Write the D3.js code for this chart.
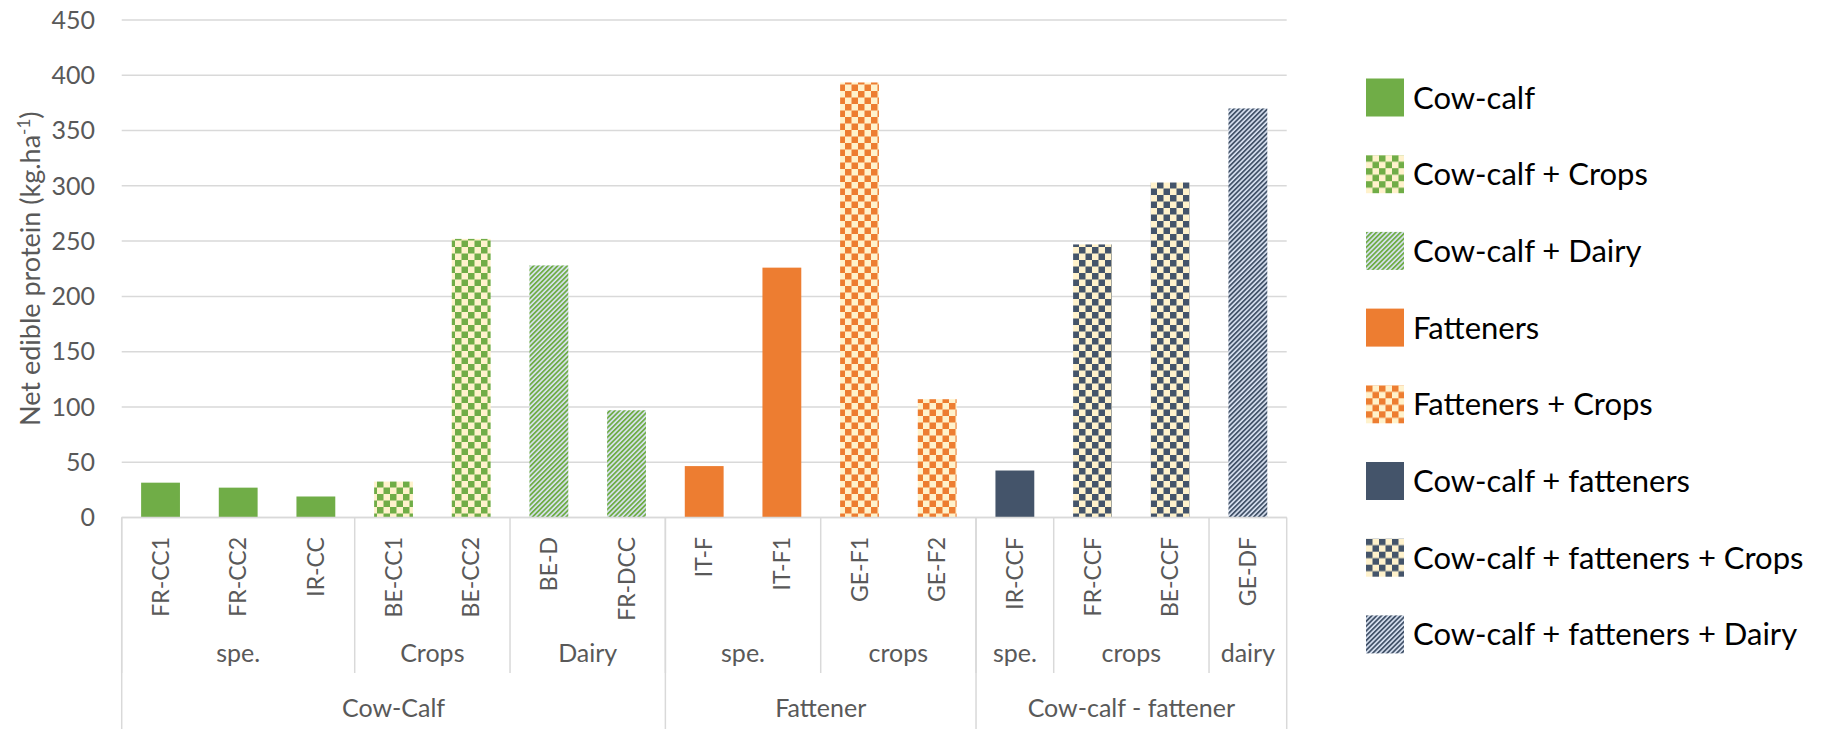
<!DOCTYPE html>
<html>
<head>
<meta charset="utf-8">
<script src="https://cdn.jsdelivr.net/npm/d3@7"></script>
<style>
  html, body { margin: 0; padding: 0; background: #fff; }
  svg { display: block; font-family: Lato, "Noto Sans", sans-serif; }
</style>
</head>
<body>
<svg id="chart" width="1845" height="729"></svg>
<script>
// farm codes and their net edible protein values (kg/ha)
var codes  = ['FR-CC1', 'FR-CC2', 'IR-CC', 'BE-CC1', 'BE-CC2', 'BE-D', 'FR-DCC',
              'IT-F', 'IT-F1', 'GE-F1', 'GE-F2', 'IR-CCF', 'FR-CCF', 'BE-CCF', 'GE-DF'];
var values = [31.5, 27, 19, 32.5, 252, 228, 97, 46.5, 226, 393.5, 107, 42.5, 247, 303, 370];
// which legend series each bar belongs to
var barSeries = [0, 0, 0, 1, 1, 2, 2, 3, 3, 4, 4, 5, 6, 6, 7];

// second and third level of the category axis
var subLabels  = ['spe.', 'Crops', 'Dairy', 'spe.', 'crops', 'spe.', 'crops', 'dairy'];
var subSizes   = [3, 2, 2, 2, 2, 1, 2, 1];
var mainLabels = ['Cow-Calf', 'Fattener', 'Cow-calf - fattener'];
var mainSizes  = [7, 4, 4];

var seriesNames = ['Cow-calf', 'Cow-calf + Crops', 'Cow-calf + Dairy', 'Fatteners',
                   'Fatteners + Crops', 'Cow-calf + fatteners',
                   'Cow-calf + fatteners + Crops', 'Cow-calf + fatteners + Dairy'];
var seriesColors = ['#70ad47', '#70ad47', '#70ad47', '#ed7d31', '#ed7d31',
                    '#44546a', '#44546a', '#44546a'];
var seriesFills  = ['solid', 'checker', 'stripe', 'solid', 'checker',
                    'solid', 'checker', 'stripe'];

var yTicks = [0, 50, 100, 150, 200, 250, 300, 350, 400, 450];

var svg = d3.select('#chart');
var plotL = 121.7, plotR = 1286.7, plotT = 20, plotB = 517.5;
var gray = '#d9d9d9', textGray = '#595959';

var x = d3.scaleBand().domain(d3.range(codes.length)).range([plotL, plotR]).padding(0);
var y = d3.scaleLinear().domain([0, 450]).range([plotB, plotT]);

// patterns
var defs = svg.append('defs');
seriesFills.forEach(function(f, i) {
  var p;
  if (f === 'checker') {
    p = defs.append('pattern').attr('id', 'pat' + i)
      .attr('patternUnits', 'userSpaceOnUse').attr('width', 13).attr('height', 13);
    p.append('rect').attr('width', 13).attr('height', 13).attr('fill', '#fff2cc');
    p.append('rect').attr('width', 6.5).attr('height', 6.5).attr('fill', seriesColors[i]);
    p.append('rect').attr('x', 6.5).attr('y', 6.5).attr('width', 6.5).attr('height', 6.5)
      .attr('fill', seriesColors[i]);
  } else if (f === 'stripe') {
    p = defs.append('pattern').attr('id', 'pat' + i)
      .attr('patternUnits', 'userSpaceOnUse').attr('width', 3.4).attr('height', 10)
      .attr('patternTransform', 'rotate(45)');
    p.append('rect').attr('width', 3.4).attr('height', 10).attr('fill', '#dae3f3');
    p.append('rect').attr('width', 1.8).attr('height', 10).attr('fill', seriesColors[i]);
  }
});
function fillOf(i) {
  return seriesFills[i] === 'solid' ? seriesColors[i] : 'url(#pat' + i + ')';
}

// gridlines and y labels
svg.append('g').selectAll('line').data(yTicks).join('line')
  .attr('x1', plotL).attr('x2', plotR)
  .attr('y1', function(d) { return y(d); }).attr('y2', function(d) { return y(d); })
  .attr('stroke', gray).attr('stroke-width', 1.5);
svg.append('g').selectAll('text').data(yTicks).join('text')
  .attr('x', 95).attr('y', function(d) { return y(d); })
  .attr('dy', '0.35em').attr('text-anchor', 'end')
  .attr('fill', textGray).style('font-size', '25px')
  .text(function(d) { return d; });

// axis title
var title = svg.append('text')
  .attr('transform', 'translate(40,' + ((plotT + plotB) / 2) + ') rotate(-90)')
  .attr('text-anchor', 'middle').attr('fill', textGray).style('font-size', '27px');
title.append('tspan').text('Net edible protein (kg.ha');
title.append('tspan').attr('baseline-shift', 'super').style('font-size', '17px').text('-1');
title.append('tspan').text(')');

// bars
var bw = x.bandwidth() * 0.5;
svg.append('g').selectAll('rect').data(values).join('rect')
  .attr('x', function(d, i) { return x(i) + (x.bandwidth() - bw) / 2; })
  .attr('y', function(d) { return y(d); })
  .attr('width', bw)
  .attr('height', function(d) { return y(0) - y(d); })
  .attr('fill', function(d, i) { return fillOf(barSeries[i]); });

// multi level category axis
var axis = svg.append('g').attr('stroke', gray).attr('stroke-width', 1.5);
axis.append('line').attr('x1', plotL).attr('x2', plotR).attr('y1', plotB).attr('y2', plotB);
var subEnd = 673, mainEnd = 729;

var subStarts = [], acc = 0;
subSizes.forEach(function(n) { subStarts.push(acc); acc += n; });
var mainStarts = []; acc = 0;
mainSizes.forEach(function(n) { mainStarts.push(acc); acc += n; });

subStarts.forEach(function(s) {
  axis.append('line').attr('x1', x(s)).attr('x2', x(s)).attr('y1', plotB).attr('y2', subEnd);
});
mainStarts.concat([codes.length]).forEach(function(s) {
  var xx = s === codes.length ? plotR : x(s);
  axis.append('line').attr('x1', xx).attr('x2', xx).attr('y1', plotB).attr('y2', mainEnd);
});

svg.append('g').selectAll('text').data(codes).join('text')
  .attr('transform', function(d, i) {
    return 'translate(' + (x(i) + x.bandwidth() / 2) + ',537) rotate(-90)';
  })
  .attr('text-anchor', 'end').attr('dy', '0.35em')
  .attr('fill', textGray).style('font-size', '23px')
  .text(function(d) { return d; });

svg.append('g').selectAll('text').data(subLabels).join('text')
  .attr('x', function(d, i) { return x(subStarts[i]) + subSizes[i] * x.bandwidth() / 2; })
  .attr('y', 662).attr('text-anchor', 'middle')
  .attr('fill', textGray).style('font-size', '25px')
  .text(function(d) { return d; });

svg.append('g').selectAll('text').data(mainLabels).join('text')
  .attr('x', function(d, i) { return x(mainStarts[i]) + mainSizes[i] * x.bandwidth() / 2; })
  .attr('y', 717).attr('text-anchor', 'middle')
  .attr('fill', textGray).style('font-size', '25px')
  .text(function(d) { return d; });

// legend
var legend = svg.append('g').selectAll('g').data(seriesNames).join('g')
  .attr('transform', function(d, i) { return 'translate(1366,' + (78.5 + i * 76.7) + ')'; });
legend.append('rect').attr('width', 38).attr('height', 38)
  .attr('fill', function(d, i) { return fillOf(i); });
legend.append('text').attr('x', 47).attr('y', 30)
  .attr('fill', '#000').style('font-size', '31px')
  .text(function(d) { return d; });
</script>
</body>
</html>
